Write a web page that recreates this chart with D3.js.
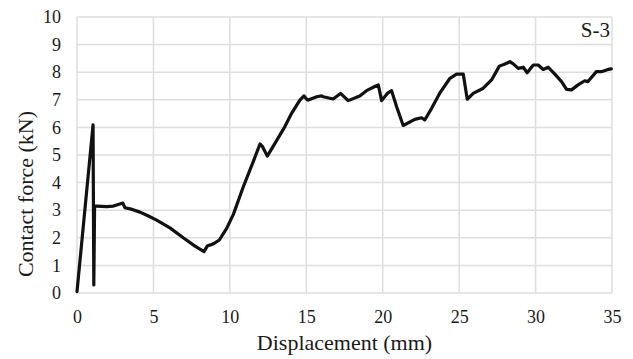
<!DOCTYPE html>
<html lang="en">
<head>
<meta charset="UTF-8">
<title>S-3 contact force</title>
<script src="https://d3js.org/d3.v7.min.js"></script>
<style>
  body { margin: 0; background: #ffffff; }
  svg text { font-family: "Liberation Serif", "Times New Roman", serif; fill: #1a1a1a; }
  .grid line { stroke: #dedede; stroke-width: 1.5; }
</style>
</head>
<body>
<div id="chart"></div>
<script>
// displacement (mm) and contact force (kN)
const disp = [0, 1.05, 1.1, 1.15, 1.29, 1.94, 2.38, 2.7, 2.99, 3.14, 3.47, 4.12, 4.67, 5.21, 6.08, 6.95,
  7.72, 8.31, 8.52, 8.92, 9.31, 9.79, 10.23, 10.88, 11.53, 11.97, 12.14, 12.45, 12.95, 13.6, 14.04,
  14.58, 14.85, 15.06, 15.13, 15.68, 16.0, 16.11, 16.76, 17.24, 17.74, 18.5, 18.94, 19.48, 19.71,
  19.93, 20.3, 20.58, 20.91, 21.34, 22.1, 22.54, 22.75, 23.2, 23.74, 24.4, 24.83, 25.27, 25.53,
  25.92, 26.58, 27.12, 27.63, 28.0, 28.32, 28.54, 28.87, 29.2, 29.45, 29.85, 30.17, 30.5, 30.83,
  31.26, 31.7, 32.03, 32.35, 32.78, 33.22, 33.43, 33.98, 34.3, 34.74, 34.95];
const force = [0.05, 6.09, 0.29, 3.15, 3.15, 3.13, 3.15, 3.21, 3.26, 3.09, 3.05, 2.93, 2.79, 2.64, 2.36, 2.0,
  1.7, 1.5, 1.7, 1.78, 1.92, 2.34, 2.85, 3.85, 4.76, 5.4, 5.3, 4.96, 5.42, 6.03, 6.51,
  6.99, 7.14, 7.0, 6.99, 7.11, 7.14, 7.11, 7.03, 7.23, 6.97, 7.14, 7.33, 7.48, 7.54,
  6.97, 7.23, 7.33, 6.75, 6.07, 6.29, 6.35, 6.27, 6.69, 7.25, 7.78, 7.93, 7.93, 7.02,
  7.23, 7.42, 7.72, 8.22, 8.3, 8.38, 8.3, 8.14, 8.18, 7.98, 8.26, 8.26, 8.1, 8.18,
  7.93, 7.66, 7.38, 7.36, 7.54, 7.69, 7.66, 8.02, 8.02, 8.1, 8.12];

const xTicks = [0, 5, 10, 15, 20, 25, 30, 35];
const yTicks = [0, 1, 2, 3, 4, 5, 6, 7, 8, 9, 10];

const W = 633, H = 359;
const margin = { top: 17, right: 21, bottom: 66, left: 77 };
const width = W - margin.left - margin.right;
const height = H - margin.top - margin.bottom;

const svg = d3.select("#chart").append("svg")
  .attr("width", W)
  .attr("height", H);

const g = svg.append("g")
  .attr("transform", `translate(${margin.left},${margin.top})`);

const x = d3.scaleLinear().domain([0, 35]).range([0, width]);
const y = d3.scaleLinear().domain([0, 10]).range([height, 0]);

// gridlines
const grid = g.append("g").attr("class", "grid");
grid.selectAll(".gx").data(xTicks).enter().append("line")
  .attr("x1", d => x(d)).attr("x2", d => x(d))
  .attr("y1", 0).attr("y2", height);
grid.selectAll(".gy").data(yTicks).enter().append("line")
  .attr("x1", 0).attr("x2", width)
  .attr("y1", d => y(d)).attr("y2", d => y(d));

// axes (labels only)
const xAxis = g.append("g")
  .attr("transform", `translate(0,${height})`)
  .call(d3.axisBottom(x).tickValues(xTicks).tickSize(0).tickPadding(17));
const yAxis = g.append("g")
  .call(d3.axisLeft(y).tickValues(yTicks).tickSize(0).tickPadding(16));
[xAxis, yAxis].forEach(a => {
  a.select(".domain").remove();
  a.selectAll("text")
    .style("font-size", "18px")
    .style("font-family", "'Liberation Serif', 'Times New Roman', serif")
    .attr("fill", "#1a1a1a");
});

// curve
const pts = disp.map((d, i) => [d, force[i]]);
g.append("path")
  .datum(pts)
  .attr("fill", "none")
  .attr("stroke", "#111")
  .attr("stroke-width", 3.2)
  .attr("stroke-linejoin", "round")
  .attr("stroke-linecap", "round")
  .attr("d", d3.line().x(d => x(d[0])).y(d => y(d[1])));

// titles
svg.append("text")
  .attr("x", margin.left + width / 2)
  .attr("y", 350)
  .attr("text-anchor", "middle")
  .style("font-size", "22px")
  .text("Displacement (mm)");

svg.append("text")
  .attr("transform", "translate(33,194) rotate(-90)")
  .attr("text-anchor", "middle")
  .style("font-size", "22px")
  .text("Contact force (kN)");

svg.append("text")
  .attr("x", 610)
  .attr("y", 37)
  .attr("text-anchor", "end")
  .style("font-size", "21px")
  .text("S-3");
</script>
</body>
</html>
